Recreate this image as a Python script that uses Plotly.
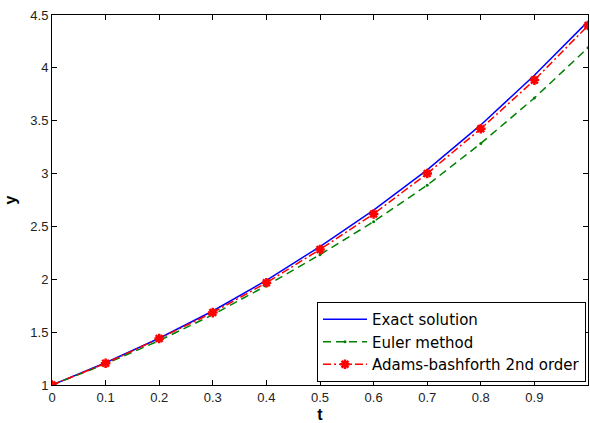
import plotly.graph_objects as go

t = [0, 0.1, 0.2, 0.3, 0.4, 0.5, 0.6, 0.7, 0.8, 0.9, 1.0]
exact = [1.0, 1.21, 1.442, 1.70, 1.99, 2.31, 2.655, 3.035, 3.46, 3.93, 4.44]
euler = [1.0, 1.2, 1.42, 1.665, 1.94, 2.233, 2.545, 2.89, 3.285, 3.715, 4.19]
adams = [1.0, 1.206, 1.44, 1.685, 1.967, 2.282, 2.618, 3.0, 3.424, 3.884, 4.40]

x_ticks = [0, 0.1, 0.2, 0.3, 0.4, 0.5, 0.6, 0.7, 0.8, 0.9, 1]
x_labels = ["0", "0.1", "0.2", "0.3", "0.4", "0.5", "0.6", "0.7", "0.8", "0.9", "1"]
y_ticks = [1, 1.5, 2, 2.5, 3, 3.5, 4, 4.5]
y_labels = ["1", "1.5", "2", "2.5", "3", "3.5", "4", "4.5"]

FONT = "Liberation Sans, Arial, Helvetica"
LEGFONT = "DejaVu Sans, Liberation Sans"

fig = go.Figure()
fig.add_trace(go.Scatter(x=t, y=exact, mode="lines", name="Exact solution",
                         line=dict(color="#0000FF", width=1.5)))
fig.add_trace(go.Scatter(x=t, y=euler, mode="lines+markers", name="Euler method",
                         line=dict(color="#008000", width=1.5, dash="8px,5px"),
                         marker=dict(symbol="circle", size=3, color="#008000")))
fig.add_trace(go.Scatter(x=t, y=adams, mode="lines+markers", name="Adams-bashforth 2nd order",
                         line=dict(color="#FF0000", width=1.5, dash="8px,3px,2px,3px"),
                         marker=dict(symbol="asterisk-open", size=8,
                                     line=dict(color="#FF0000", width=2.5))))

axis_common = dict(showgrid=False, zeroline=False, showline=True, linecolor="black",
                   linewidth=1, mirror="ticks", ticks="inside", ticklen=5,
                   tickcolor="black", tickwidth=1,
                   tickfont=dict(family=FONT, size=13, color="#222222"))

fig.update_layout(
    width=590, height=423,
    margin=dict(l=52, r=1, t=15, b=35),
    paper_bgcolor="white", plot_bgcolor="white",
    xaxis=dict(range=[0, 1], tickvals=x_ticks, ticktext=x_labels,
               title=dict(text="<b>t</b>", font=dict(family=FONT, size=16, color="black"),
                          standoff=6),
               **axis_common),
    yaxis=dict(range=[1, 4.5], tickvals=y_ticks, ticktext=y_labels,
               title=dict(text="<b>y</b>", font=dict(family=FONT, size=16, color="black"),
                          standoff=9),
               **axis_common),
    legend=dict(x=0.9963, xanchor="right", y=0.008, yanchor="bottom",
                bordercolor="black", borderwidth=1, bgcolor="white",
                font=dict(family=LEGFONT, size=15, color="black"),
                tracegroupgap=0, itemwidth=44),
    showlegend=True,
)

fig.write_html("out.html",
               config={"displayModeBar": False},
               post_script="document.body.style.margin='0';document.body.style.overflow='hidden';")
